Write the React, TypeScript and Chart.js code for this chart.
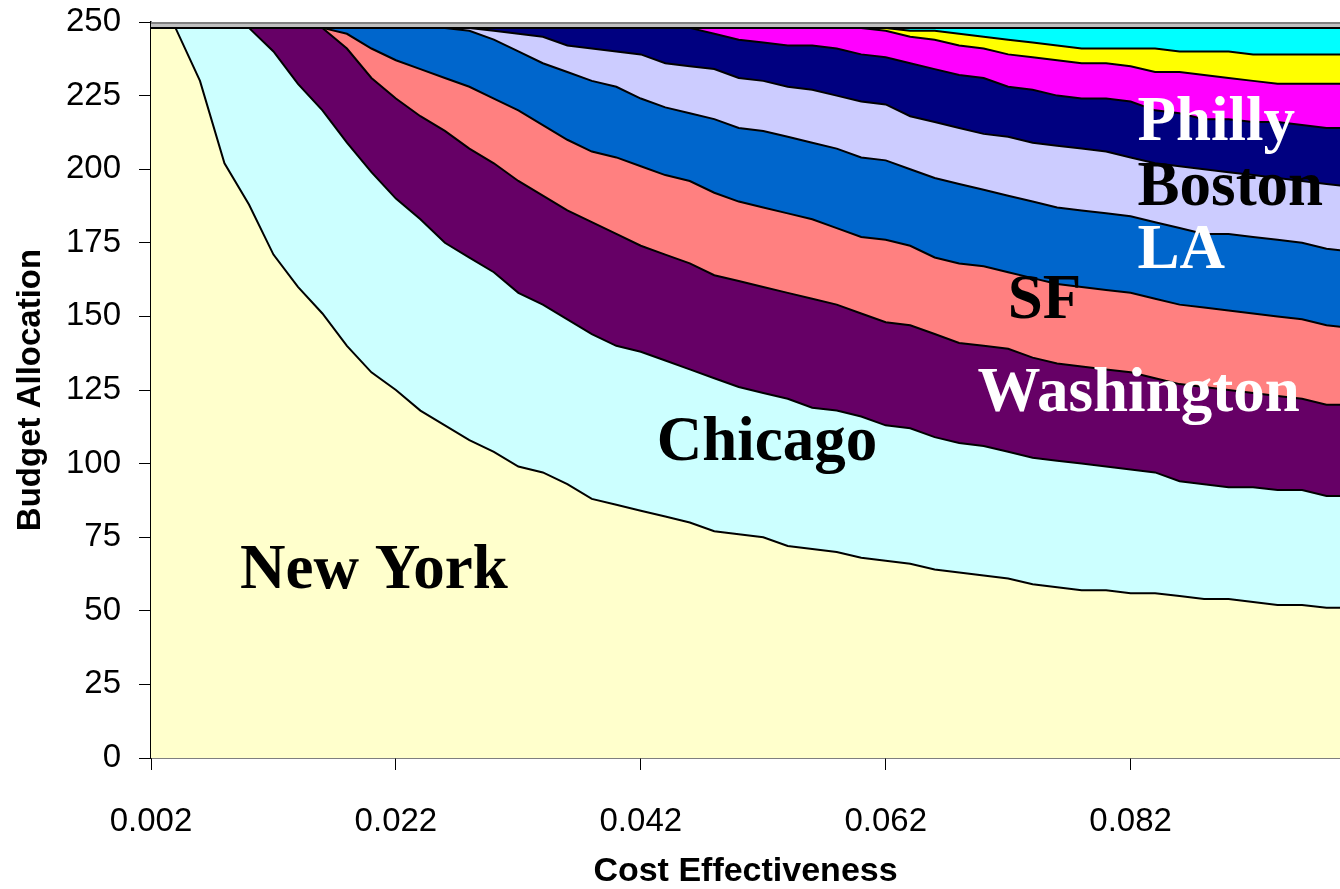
import { useEffect, useRef } from "react";
import { Chart, registerables } from "chart.js";

Chart.register(...registerables);

// Cost effectiveness (x categories)
const costEffectiveness = [
  0.002, 0.004, 0.006, 0.008, 0.010, 0.012, 0.014, 0.016, 0.018, 0.020,
  0.022, 0.024, 0.026, 0.028, 0.030, 0.032, 0.034, 0.036, 0.038, 0.040,
  0.042, 0.044, 0.046, 0.048, 0.050, 0.052, 0.054, 0.056, 0.058, 0.060,
  0.062, 0.064, 0.066, 0.068, 0.070, 0.072, 0.074, 0.076, 0.078, 0.080,
  0.082, 0.084, 0.086, 0.088, 0.090, 0.092, 0.094, 0.096, 0.098, 0.100,
];

// Budget allocation per city (stacked)
const newYork = [
  248, 248, 230, 202, 188, 171, 160, 151, 140, 131,
  125, 118, 113, 108, 104, 99, 97, 93, 88, 86,
  84, 82, 80, 77, 76, 75, 72, 71, 70, 68,
  67, 66, 64, 63, 62, 61, 59, 58, 57, 57,
  56, 56, 55, 54, 54, 53, 52, 52, 51, 51,
];
const chicago = [
  0, 0, 18, 46, 60, 69, 69, 69, 69, 68,
  65, 65, 62, 62, 61, 59, 57, 56, 56, 54,
  54, 53, 52, 52, 50, 49, 50, 48, 48, 48,
  46, 46, 45, 44, 44, 43, 43, 43, 43, 42,
  42, 41, 39, 39, 38, 39, 39, 39, 38, 38,
];
const washington = [
  0, 0, 0, 0, 0, 8, 19, 28, 32, 32,
  34, 35, 38, 37, 37, 38, 37, 37, 38, 38,
  36, 36, 36, 35, 36, 36, 36, 37, 36, 35,
  35, 35, 35, 34, 34, 35, 34, 33, 33, 33,
  33, 32, 33, 33, 33, 32, 32, 31, 31, 31,
];
const sanFrancisco = [
  0, 0, 0, 0, 0, 0, 0, 0, 5, 10,
  13, 16, 18, 21, 22, 24, 24, 24, 24, 26,
  27, 27, 28, 28, 27, 27, 27, 27, 26, 26,
  28, 27, 26, 27, 27, 26, 27, 27, 27, 27,
  27, 27, 27, 27, 27, 27, 27, 27, 27, 26,
];
const losAngeles = [
  0, 0, 0, 0, 0, 0, 0, 0, 2, 7,
  11, 14, 17, 19, 20, 20, 21, 23, 24, 24,
  23, 23, 23, 25, 25, 26, 26, 26, 27, 27,
  27, 26, 27, 27, 26, 26, 26, 26, 26, 26,
  26, 26, 26, 25, 26, 26, 26, 26, 26, 26,
];
const boston = [
  0, 0, 0, 0, 0, 0, 0, 0, 0, 0,
  0, 0, 0, 1, 3, 6, 9, 9, 11, 12,
  15, 15, 16, 17, 17, 17, 17, 18, 18, 19,
  19, 18, 19, 19, 19, 20, 20, 21, 21, 21,
  20, 20, 21, 22, 21, 21, 21, 21, 22, 22,
];
const philly = [
  0, 0, 0, 0, 0, 0, 0, 0, 0, 0,
  0, 0, 0, 0, 1, 2, 3, 6, 7, 8,
  9, 12, 13, 12, 13, 13, 14, 15, 16, 16,
  16, 18, 18, 18, 19, 17, 18, 17, 17, 18,
  19, 18, 18, 17, 18, 18, 19, 19, 19, 20,
];
const series8 = [
  0, 0, 0, 0, 0, 0, 0, 0, 0, 0,
  0, 0, 0, 0, 0, 0, 0, 0, 0, 0,
  0, 0, 0, 2, 4, 5, 6, 6, 7, 9,
  9, 9, 10, 10, 10, 11, 11, 12, 12, 12,
  12, 13, 14, 15, 14, 14, 13, 14, 15, 15,
];
const series9 = [
  0, 0, 0, 0, 0, 0, 0, 0, 0, 0,
  0, 0, 0, 0, 0, 0, 0, 0, 0, 0,
  0, 0, 0, 0, 0, 0, 0, 0, 0, 0,
  1, 2, 3, 4, 4, 5, 5, 5, 5, 5,
  6, 8, 7, 8, 9, 9, 10, 10, 10, 10,
];
const series10 = [
  0, 0, 0, 0, 0, 0, 0, 0, 0, 0,
  0, 0, 0, 0, 0, 0, 0, 0, 0, 0,
  0, 0, 0, 0, 0, 0, 0, 0, 0, 0,
  0, 1, 1, 2, 3, 4, 5, 6, 7, 7,
  7, 7, 8, 8, 8, 9, 9, 9, 9, 9,
];

const seriesNames = [
  "New York", "Chicago", "Washington", "SF", "LA",
  "Boston", "Philly", "Series 8", "Series 9", "Series 10",
];
const seriesValues = [
  newYork, chicago, washington, sanFrancisco, losAngeles,
  boston, philly, series8, series9, series10,
];
const seriesColors = [
  "#FFFFCC", "#CCFFFF", "#660066", "#FF8080", "#0066CC",
  "#CCCCFF", "#000080", "#FF00FF", "#FFFF00", "#00FFFF",
];

const xTickValues = [0.002, 0.022, 0.042, 0.062, 0.082];
const yTickValues = [0, 25, 50, 75, 100, 125, 150, 175, 200, 225, 250];

// In-plot area labels (data coordinates)
const areaLabels = [
  { text: "New York", x: 0.00927, y: 57.7, color: "#000000" },
  { text: "Chicago", x: 0.0433, y: 101.2, color: "#000000" },
  { text: "Washington", x: 0.0695, y: 117.8, color: "#FFFFFF" },
  { text: "SF", x: 0.07196, y: 149.5, color: "#000000" },
  { text: "LA", x: 0.08257, y: 166.4, color: "#FFFFFF" },
  { text: "Boston", x: 0.08257, y: 187.8, color: "#000000" },
  { text: "Philly", x: 0.08257, y: 209.9, color: "#FFFFFF" },
];

const SANS = '"Liberation Sans", Arial, sans-serif';
const SERIF = '"Liberation Serif", "Times New Roman", serif';

const plotBackground = {
  id: "plotBackground",
  beforeDatasetsDraw(chart: any) {
    const { ctx, chartArea } = chart;
    const { left, top, right, bottom } = chartArea;
    ctx.save();
    ctx.fillStyle = "#C0C0C0";
    ctx.fillRect(left, top, right - left, bottom - top);
    ctx.strokeStyle = "#808080";
    ctx.lineWidth = 2;
    ctx.beginPath();
    ctx.moveTo(left, top + 1);
    ctx.lineTo(right, top + 1);
    ctx.stroke();
    ctx.restore();
  },
};

const areaLabelPlugin = {
  id: "areaLabels",
  afterDatasetsDraw(chart: any) {
    const { ctx } = chart;
    const xs = chart.scales.x;
    const ys = chart.scales.y;
    ctx.save();
    ctx.font = `bold 63px ${SERIF}`;
    ctx.textAlign = "left";
    ctx.textBaseline = "alphabetic";
    for (const l of areaLabels) {
      ctx.fillStyle = l.color;
      ctx.fillText(l.text, xs.getPixelForValue(l.x), ys.getPixelForValue(l.y));
    }
    ctx.restore();
  },
};

export default function App() {
  const canvasRef = useRef<HTMLCanvasElement | null>(null);

  useEffect(() => {
    if (!canvasRef.current) return;
    const datasets = seriesValues.map((vals, i) => ({
      label: seriesNames[i],
      data: vals.map((v, j) => ({ x: costEffectiveness[j], y: v })),
      backgroundColor: seriesColors[i],
      borderColor: "#000000",
      borderWidth: 2,
      pointRadius: 0,
      pointHoverRadius: 0,
      tension: 0,
      fill: i === 0 ? "origin" : "-1",
    }));

    const chart = new Chart(canvasRef.current, {
      type: "line",
      data: { datasets },
      plugins: [plotBackground, areaLabelPlugin],
      options: {
        responsive: false,
        animation: false,
        events: [],
        layout: { padding: { top: 22, right: 0, bottom: 0, left: 0 } },
        plugins: {
          legend: { display: false },
          tooltip: { enabled: false },
          title: { display: false },
        },
        scales: {
          x: {
            type: "linear",
            min: 0.002,
            max: 0.0991,
            z: 1,
            afterBuildTicks: (scale: any) => {
              scale.ticks = xTickValues.map((v) => ({ value: v }));
            },
            afterFit: (scale: any) => {
              scale.height = 131;
              scale.paddingLeft = 0;
              scale.paddingRight = 0;
            },
            ticks: {
              color: "#000000",
              font: { family: SANS, size: 33 },
              padding: 32,
              maxRotation: 0,
              autoSkip: false,
              callback: (v: any) => Number(v).toFixed(3),
            },
            grid: {
              display: true,
              drawOnChartArea: false,
              drawTicks: true,
              tickLength: 12,
              color: "#000000",
              lineWidth: 1,
            },
            border: { display: true, color: "#000000", width: 1.5 },
            title: {
              display: true,
              text: "Cost Effectiveness",
              color: "#000000",
              font: { family: SANS, size: 34, weight: "bold" },
              padding: { top: 0, bottom: -3 },
            },
          },
          y: {
            type: "linear",
            stacked: true,
            min: 0,
            max: 250,
            z: 1,
            afterBuildTicks: (scale: any) => {
              scale.ticks = yTickValues.map((v) => ({ value: v }));
            },
            afterFit: (scale: any) => {
              scale.width = 151;
              scale.paddingTop = 0;
              scale.paddingBottom = 0;
            },
            ticks: {
              color: "#000000",
              font: { family: SANS, size: 33 },
              padding: 18,
              autoSkip: false,
            },
            grid: {
              display: true,
              drawOnChartArea: false,
              drawTicks: true,
              tickLength: 12,
              color: "#000000",
              lineWidth: 1,
            },
            border: { display: true, color: "#000000", width: 1.5 },
            title: {
              display: true,
              text: "Budget Allocation",
              color: "#000000",
              font: { family: SANS, size: 33, weight: "bold" },
              padding: { top: 11, bottom: 0 },
            },
          },
        },
      },
    } as any);

    return () => {
      chart.destroy();
    };
  }, []);

  return (
    <div style={{ position: "fixed", left: 0, top: 0, width: 1340, height: 889, background: "#FFFFFF" }}>
      <canvas ref={canvasRef} width={1340} height={889} style={{ display: "block" }} />
    </div>
  );
}
